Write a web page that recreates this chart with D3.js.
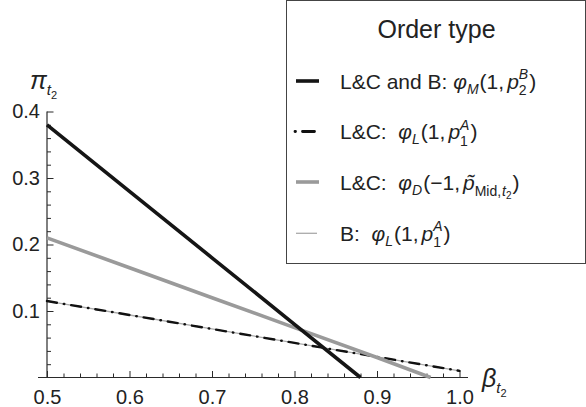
<!DOCTYPE html>
<html><head><meta charset="utf-8">
<script src="https://cdn.jsdelivr.net/npm/d3@7"></script>
<style>body{margin:0;background:#fff} svg{display:block}</style>
</head><body>
<script>
// ---- data ----
const xTicks = [0.5, 0.6, 0.7, 0.8, 0.9, 1.0];
const yTicks = [0.1, 0.2, 0.3, 0.4];
const betaMarket = [0.5, 0.6, 0.7, 0.8, 0.88];
const piMarket   = [0.38, 0.28, 0.18, 0.08, 0.0];
const betaDealer = [0.5, 0.6, 0.7, 0.8, 0.9, 0.965];
const piDealer   = [0.21, 0.165, 0.12, 0.075, 0.03, 0.0];
const betaLimit  = [0.5, 0.6, 0.7, 0.8, 0.9, 1.0];
const piLimitLC  = [0.115, 0.094, 0.073, 0.052, 0.031, 0.01];
const piLimitB   = [0.115, 0.094, 0.073, 0.052, 0.031, 0.01];

const W = 586, H = 407;
const FONT = "'Liberation Sans', Arial, Helvetica, sans-serif";
const svg = d3.select("body").append("svg").attr("width", W).attr("height", H)
  .style("font-family", FONT);

const x = d3.scaleLinear().domain([0.5, 1.0]).range([47, 459.5]);
const y = d3.scaleLinear().domain([0, 0.4]).range([377.5, 111.5]);

const axisColor = "#2a2a2a";
const textColor = "#222";

// axis lines
svg.append("line").attr("x1", 38).attr("x2", 468).attr("y1", y(0)).attr("y2", y(0))
  .attr("stroke", axisColor).attr("stroke-width", 1.2);
svg.append("line").attr("x1", x(0.5)).attr("x2", x(0.5)).attr("y1", y(0)).attr("y2", y(0.4))
  .attr("stroke", axisColor).attr("stroke-width", 1.2);

// x axis major
const gx = svg.append("g").attr("transform", `translate(0,${y(0)})`)
  .call(d3.axisBottom(x).tickValues(xTicks).tickSize(-6.5).tickPadding(12).tickFormat(d3.format(".1f")));
gx.select(".domain").remove();
gx.selectAll("line").attr("stroke", axisColor).attr("stroke-width", 1);
gx.selectAll("text").attr("font-size", 20).attr("fill", textColor).attr("font-family", FONT);
// x axis minor
const xMinor = d3.range(25, 50).filter(i => i % 5).map(i => i / 50);
const gxm = svg.append("g").attr("transform", `translate(0,${y(0)})`)
  .call(d3.axisBottom(x).tickValues(xMinor).tickSize(-4).tickFormat(""));
gxm.select(".domain").remove();
gxm.selectAll("line").attr("stroke", axisColor).attr("stroke-width", 1);

// y axis major
const gy = svg.append("g").attr("transform", `translate(${x(0.5)},0)`)
  .call(d3.axisLeft(y).tickValues(yTicks).tickSize(-6.5).tickPadding(7).tickFormat(d3.format(".1f")));
gy.select(".domain").remove();
gy.selectAll("line").attr("stroke", axisColor).attr("stroke-width", 1);
gy.selectAll("text").attr("font-size", 20).attr("fill", textColor).attr("font-family", FONT);
const yMinor = d3.range(1, 20).filter(i => i % 5).map(i => i / 50);
const gym = svg.append("g").attr("transform", `translate(${x(0.5)},0)`)
  .call(d3.axisLeft(y).tickValues(yMinor).tickSize(-4).tickFormat(""));
gym.select(".domain").remove();
gym.selectAll("line").attr("stroke", axisColor).attr("stroke-width", 1);

// series
const line = d3.line().x(d => x(d[0])).y(d => y(d[1]));
const zip = (a, b) => a.map((v, i) => [v, b[i]]);

svg.append("path").datum(zip(betaLimit, piLimitB)).attr("d", line)
  .attr("fill", "none").attr("stroke", "#aaa").attr("stroke-width", 1.3);
svg.append("path").datum(zip(betaLimit, piLimitLC)).attr("d", line)
  .attr("fill", "none").attr("stroke", "#111").attr("stroke-width", 2.4)
  .attr("stroke-linecap", "round").attr("stroke-dasharray", "10,7,0.5,7");
svg.append("path").datum(zip(betaDealer, piDealer)).attr("d", line)
  .attr("fill", "none").attr("stroke", "#9a9a9a").attr("stroke-width", 3.6);
svg.append("path").datum(zip(betaMarket, piMarket)).attr("d", line)
  .attr("fill", "none").attr("stroke", "#151515").attr("stroke-width", 3.6);

// axis labels
const pi = svg.append("text").attr("x", 30).attr("y", 89).attr("fill", textColor)
  .attr("font-style", "italic").attr("font-size", 25);
pi.append("tspan").text("π");
pi.append("tspan").attr("font-size", 15).attr("dy", 6).text("t");
pi.append("tspan").attr("font-size", 11).attr("dy", 4).attr("font-style", "normal").text("2");

const be = svg.append("text").attr("x", 482).attr("y", 387).attr("fill", textColor)
  .attr("font-style", "italic").attr("font-size", 25);
be.append("tspan").text("β");
be.append("tspan").attr("font-size", 15).attr("dy", 6).text("t");
be.append("tspan").attr("font-size", 11).attr("dy", 4).attr("font-style", "normal").text("2");

// legend
const lg = svg.append("g");
lg.append("rect").attr("x", 286.5).attr("y", 0.5).attr("width", 299).attr("height", 263)
  .attr("fill", "#fff").attr("stroke", "#444").attr("stroke-width", 1);
lg.append("text").attr("x", 436.5).attr("y", 38).attr("text-anchor", "middle")
  .attr("font-size", 25).attr("fill", textColor).text("Order type");

const rows = [81, 131.5, 182, 233.3];
const LX1 = 296, LX2 = 319, TX = 340, FS = 21, SS = 14;
// samples
lg.append("line").attr("x1", LX1).attr("x2", LX2).attr("y1", rows[0]).attr("y2", rows[0])
  .attr("stroke", "#151515").attr("stroke-width", 3.6);
lg.append("line").attr("x1", LX1 - 1).attr("x2", LX2).attr("y1", rows[1]).attr("y2", rows[1])
  .attr("stroke", "#111").attr("stroke-width", 2.8).attr("stroke-linecap", "round")
  .attr("stroke-dasharray", "0.5,7,12,100");
lg.append("line").attr("x1", LX1).attr("x2", LX2).attr("y1", rows[2]).attr("y2", rows[2])
  .attr("stroke", "#9a9a9a").attr("stroke-width", 3.6);
lg.append("line").attr("x1", LX1).attr("x2", LX2 - 2).attr("y1", rows[3]).attr("y2", rows[3])
  .attr("stroke", "#aaa").attr("stroke-width", 1.3);

function entry(rowY, parts) {
  const t = lg.append("text").attr("x", TX).attr("y", rowY + 7.5).attr("font-size", FS)
    .attr("fill", textColor).attr("xml:space", "preserve");
  parts.forEach(p => {
    const s = t.append("tspan").text(p.t);
    if (p.i) s.attr("font-style", "italic");
    if (p.fs) s.attr("font-size", p.fs);
    if (p.dy) s.attr("dy", p.dy);
    if (p.dx) s.attr("dx", p.dx);
  });
}
// L&C and B: φM(1,p2^B)
entry(rows[0], [
  {t: "L&C and B: "}, {t: "φ", i: 1}, {t: "M", i: 1, fs: SS, dy: 5},
  {t: "(", dy: -5, dx: 1}, {t: "1,"}, {t: "p", i: 1, dx: 3}, {t: "2", fs: SS, dy: 6.5},
  {t: "B", i: 1, fs: SS, dx: -7.8, dy: -16}, {t: ")", dy: 9.5, dx: 1}
]);
entry(rows[1], [
  {t: "L&C:  "}, {t: "φ", i: 1}, {t: "L", i: 1, fs: SS, dy: 5},
  {t: "(", dy: -5, dx: 1}, {t: "1,"}, {t: "p", i: 1, dx: 3}, {t: "1", fs: SS, dy: 6.5},
  {t: "A", i: 1, fs: SS, dx: -7.8, dy: -16}, {t: ")", dy: 9.5, dx: 1}
]);
entry(rows[2], [
  {t: "L&C:  "}, {t: "φ", i: 1}, {t: "D", i: 1, fs: SS, dy: 5},
  {t: "(", dy: -5, dx: 1}, {t: "−1,"}, {t: "p̃", i: 1, dx: 3}, {t: "Mid,", fs: SS, dy: 6},
  {t: "t", i: 1, fs: SS, dx: 1}, {t: "2", fs: 10, dy: 3}, {t: ")", dy: -9, dx: 1}
]);
entry(rows[3], [
  {t: "B:  "}, {t: "φ", i: 1}, {t: "L", i: 1, fs: SS, dy: 5},
  {t: "(", dy: -5, dx: 1}, {t: "1,"}, {t: "p", i: 1, dx: 3}, {t: "1", fs: SS, dy: 6.5},
  {t: "A", i: 1, fs: SS, dx: -7.8, dy: -16}, {t: ")", dy: 9.5, dx: 1}
]);
</script>
</body></html>
